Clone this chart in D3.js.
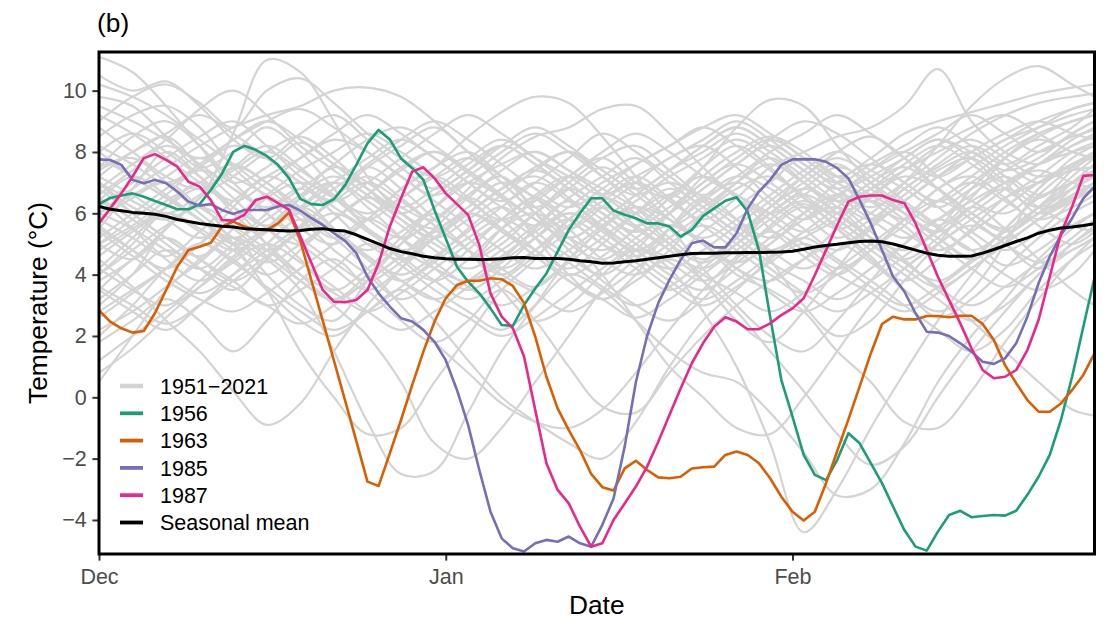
<!DOCTYPE html>
<html><head><meta charset="utf-8">
<script src="https://cdn.jsdelivr.net/npm/d3@7"></script>
<style>
body{margin:0;background:#fff}
svg{display:block}
text{font-family:"Liberation Sans",Arial,Helvetica,sans-serif}
</style>
</head><body>
<svg id="chart" width="1117" height="619"></svg>
<script>
// ---------------- DATA ----------------
const seasonStart = "2000-12-01";           // day offset 0 = 1 Dec
const seasonEnd = 89;                        // 28 Feb
const xTickDates = ["2000-12-01", "2001-01-01", "2001-02-01"];
const xTickLabels = ["Dec", "Jan", "Feb"];
const yTicks = [-4, -2, 0, 2, 4, 6, 8, 10];
const yTickLabels = ["\u22124", "\u22122", "0", "2", "4", "6", "8", "10"];

// daily values, day 0 = 1 Dec ... day 89 = 28 Feb
const y1956 = [6.3,6.5,6.58,6.65,6.54,6.4,6.27,6.13,6.13,6.3,6.76,7.3,8.0,8.2,8.07,7.87,7.58,7.14,6.47,6.3,
6.27,6.46,6.92,7.58,8.28,8.72,8.41,7.79,7.47,7.09,6.1,5.18,4.26,3.77,3.39,2.9,2.36,2.33,3.01,3.55,
4.04,4.75,5.46,6.0,6.49,6.49,6.09,5.95,5.84,5.67,5.67,5.57,5.24,5.46,5.91,6.16,6.41,6.52,6.05,4.8,
2.63,0.57,-0.63,-1.88,-2.53,-2.7,-2.04,-1.17,-1.5,-2.15,-2.8,-3.57,-4.33,-4.87,-5.0,-4.38,-3.84,-3.7,-3.91,-3.87,
-3.84,-3.86,-3.7,-3.18,-2.59,-1.88,-0.74,0.67,2.3,3.9];
const y1963 = [2.83,2.47,2.25,2.11,2.16,2.74,3.5,4.26,4.8,4.91,5.04,5.57,5.73,5.57,5.46,5.46,5.67,6.03,5.1,3.8,
2.5,1.2,-0.1,-1.42,-2.75,-2.89,-1.83,-0.74,0.4,1.49,2.47,3.23,3.66,3.8,3.8,3.88,3.85,3.63,3.07,1.98,
0.67,-0.36,-1.07,-1.72,-2.5,-2.93,-3.04,-2.32,-2.07,-2.37,-2.61,-2.64,-2.59,-2.32,-2.28,-2.26,-1.88,-1.77,-1.88,-2.15,
-2.64,-3.24,-3.73,-4.02,-3.73,-2.8,-1.75,-0.72,0.35,1.43,2.39,2.63,2.54,2.54,2.65,2.65,2.61,2.66,2.66,2.39,
1.87,1.05,0.46,-0.09,-0.47,-0.47,-0.2,0.24,0.73,1.43];
const y1985 = [7.76,7.74,7.58,7.09,6.98,7.09,6.98,6.71,6.38,6.25,6.3,6.11,5.98,6.11,6.11,6.11,6.22,6.27,6.09,5.84,
5.62,5.35,5.1,4.7,3.93,3.39,2.96,2.58,2.47,2.2,1.81,1.21,0.24,-0.9,-2.37,-3.73,-4.6,-4.92,-5.03,-4.76,
-4.65,-4.71,-4.54,-4.76,-4.87,-4.16,-3.3,-1.6,0.5,2.0,3.07,3.83,4.48,5.02,5.11,4.89,4.89,5.35,6.16,6.71,
7.09,7.58,7.76,7.76,7.76,7.68,7.47,7.14,6.43,5.67,4.8,3.93,3.45,2.74,2.14,2.11,2.0,1.76,1.49,1.16,
1.09,1.27,1.76,2.63,3.72,4.59,5.29,5.84,6.49,6.87];
const y1987 = [5.67,6.16,6.65,7.2,7.8,7.93,7.74,7.52,7.03,6.87,6.43,5.78,5.76,5.95,6.43,6.54,6.33,6.11,5.24,4.37,
3.5,3.12,3.1,3.17,3.5,4.37,5.57,6.49,7.36,7.5,7.14,6.65,6.3,5.95,4.97,3.39,2.63,2.25,1.33,-0.41,
-2.15,-3.02,-3.46,-4.22,-4.87,-4.76,-4.0,-3.46,-2.91,-2.26,-1.45,-0.58,0.29,1.11,1.76,2.3,2.61,2.47,2.22,2.22,
2.41,2.68,2.9,3.23,3.99,4.8,5.62,6.38,6.54,6.58,6.58,6.43,6.33,5.67,4.8,3.93,3.17,2.41,1.6,0.89,
0.62,0.67,0.89,1.54,2.52,3.93,5.35,6.22,7.22,7.25];
const seasonalMean = [6.22,6.13,6.08,6.03,6.0,5.97,5.9,5.8,5.73,5.67,5.62,5.58,5.55,5.5,5.48,5.46,5.44,5.42,5.44,5.48,
5.5,5.45,5.42,5.3,5.15,5.0,4.85,4.75,4.68,4.6,4.55,4.52,4.5,4.5,4.49,4.5,4.52,4.55,4.56,4.53,
4.53,4.53,4.5,4.45,4.42,4.37,4.38,4.42,4.45,4.5,4.55,4.6,4.65,4.69,4.7,4.7,4.71,4.71,4.72,4.72,
4.73,4.74,4.76,4.83,4.9,4.95,4.99,5.04,5.08,5.1,5.07,5.0,4.9,4.8,4.7,4.63,4.6,4.6,4.61,4.7,
4.82,4.95,5.08,5.2,5.35,5.45,5.52,5.55,5.6,5.66];

// background years 1951-2021, sampled every 3rd day
const greyDays = [0,3,6,9,12,15,18,21,24,27,30,33,36,39,42,45,48,51,54,57,60,63,66,69,72,75,78,81,84,87,89];
const greyValues = [
[11.1,10.6,9.5,8.2,7.0,7.5,8.3,7.6,6.8,6.0,5.5,6.2,7.0,6.5,5.8,5.0,4.6,5.5,6.4,7.0,6.3,5.5,4.8,5.6,6.8,7.5,8.0,7.2,6.5,7.4,7.9],
[7.0,6.2,5.8,6.5,8.6,11.0,10.6,9.0,7.2,6.0,5.2,4.5,5.0,6.0,6.8,6.2,5.5,4.8,4.2,5.0,6.0,6.8,7.5,7.0,6.2,5.6,6.5,7.8,8.6,9.0,9.2],
[0.5,2.0,3.5,4.5,5.2,4.0,3.0,2.5,3.8,5.0,6.2,7.0,6.5,5.2,4.0,3.2,4.0,5.5,6.5,5.8,4.5,3.0,2.0,2.5,3.8,5.0,6.2,5.5,4.5,3.5,3.0],
[4.5,3.6,2.5,1.5,0.2,-0.9,-0.2,1.5,3.0,4.2,5.5,6.5,7.2,6.0,4.8,3.8,3.0,2.5,3.2,4.5,5.6,6.3,5.5,4.6,3.5,2.8,3.5,5.0,6.8,7.5,7.2],
[7.5,7.8,7.0,6.0,5.2,4.5,3.5,1.5,-0.8,-2.5,-2.4,-0.5,1.5,3.0,4.5,5.5,6.2,5.5,4.2,3.0,2.0,1.5,2.5,3.8,5.0,5.8,5.2,4.3,4.8,5.6,6.0],
[5.5,6.8,8.0,7.2,6.0,5.0,4.0,3.0,2.0,0.5,-1.5,-2.0,-1.0,0.5,2.0,3.5,4.5,5.2,6.0,6.8,7.2,6.5,5.5,4.5,3.8,4.5,5.5,6.5,7.2,8.0,8.3],
[3.0,4.0,5.5,6.2,5.0,3.5,1.5,0.0,-1.2,-1.0,0.5,2.0,3.5,4.5,5.8,6.5,6.0,5.0,3.8,2.5,1.8,2.8,4.2,5.5,6.2,5.5,4.8,4.0,3.5,4.0,4.8],
[6.0,6.8,7.5,8.2,8.8,9.2,9.5,10.0,10.1,9.8,9.0,8.0,7.2,6.5,5.5,4.5,4.0,4.8,6.0,7.0,7.8,7.0,6.0,5.2,4.8,5.5,6.8,7.8,8.5,9.0,9.2],
[5.0,4.5,5.5,6.5,7.5,7.0,6.0,5.2,5.8,6.8,7.5,8.5,9.3,9.8,9.6,8.5,7.2,6.0,5.0,4.2,3.8,4.5,5.5,6.5,7.2,6.8,6.0,5.4,6.0,7.0,7.6],
[8.0,7.2,6.5,5.8,5.0,5.5,6.5,7.5,7.0,6.2,5.8,6.8,7.8,8.5,8.8,9.4,9.5,8.6,7.5,6.5,5.8,5.0,4.2,4.8,5.8,6.8,7.5,8.2,8.8,9.4,9.6],
[4.0,5.0,6.0,5.5,4.8,4.0,4.8,5.8,6.5,6.0,5.2,4.5,5.5,6.5,7.2,7.8,7.0,6.5,7.5,8.8,9.7,9.5,8.2,7.0,6.0,5.2,4.6,5.5,6.6,7.5,8.0],
[6.5,5.8,5.0,4.2,3.5,4.5,5.5,6.5,7.2,6.5,5.6,4.8,4.0,4.8,5.8,6.6,7.2,6.5,5.8,6.5,7.5,8.0,8.5,8.8,9.5,10.7,9.0,8.0,7.6,8.2,8.5],
[7.2,8.0,8.5,7.5,6.5,5.5,5.0,5.8,6.6,7.5,8.0,7.3,6.5,5.8,5.0,4.5,5.2,6.0,7.0,7.6,7.0,6.2,5.5,6.0,7.0,8.2,9.5,10.4,10.8,10.2,9.8],
[5.5,4.8,4.2,5.0,6.2,7.2,6.6,5.5,4.5,3.8,4.5,5.5,6.2,5.4,4.6,4.0,4.8,6.0,7.2,8.0,8.5,8.0,7.2,7.8,8.6,9.0,9.3,9.6,9.9,10.1,10.2],
[5.8,6.5,7.0,6.2,5.5,4.8,5.5,6.5,7.5,6.8,5.8,4.8,3.5,2.5,3.0,4.0,4.8,4.2,2.8,1.0,-1.5,-4.4,-3.0,-1.0,0.8,2.5,4.0,5.2,6.0,6.5,6.8],
[3.5,4.5,5.2,4.5,3.8,3.0,3.5,4.2,5.0,4.3,3.5,2.8,2.2,3.0,4.0,3.5,2.5,1.5,0.8,0.5,-0.5,-1.8,-3.2,-3.0,-1.5,0.5,2.0,3.2,4.5,5.5,6.0],
[2.0,3.0,4.2,5.0,4.5,3.5,2.5,2.0,2.8,3.5,2.5,1.2,0.0,-0.8,-1.5,-2.0,-0.8,1.0,2.5,3.5,4.5,5.2,4.5,3.8,3.0,2.2,1.5,2.2,3.5,4.5,5.0],
[6.0,5.5,4.8,4.2,5.0,6.0,6.8,6.0,5.0,4.5,5.2,6.0,5.5,4.6,3.8,3.2,3.8,4.5,3.8,2.8,1.5,0.2,-1.2,-2.2,-1.6,0.0,1.5,2.8,4.0,5.0,5.5],
[4.2,5.2,6.2,7.0,6.2,5.5,4.5,3.5,4.2,5.2,6.0,5.2,4.2,3.6,4.5,5.5,6.2,5.8,5.0,4.0,3.5,2.8,1.5,0.5,-0.8,-1.0,0.2,1.8,3.2,4.5,5.2],
[6.5,5.5,4.5,3.8,4.5,5.5,6.5,7.0,6.2,5.2,4.2,3.5,4.2,5.2,6.0,5.5,4.8,4.0,3.5,4.2,5.0,5.8,6.2,5.4,4.5,3.5,2.5,1.5,0.5,-0.4,-0.6],
[7.0,6.0,5.2,4.6,5.5,6.5,7.0,6.5,5.5,4.5,3.8,4.5,5.5,6.0,5.2,4.0,2.5,1.0,0.0,-1.0,-1.2,0.0,1.5,3.0,4.2,5.0,5.8,6.5,7.0,7.4,7.5],
[3.5,2.8,2.2,3.0,4.0,5.0,5.8,5.2,4.2,3.0,1.8,0.8,-0.2,-0.8,-1.0,-0.4,0.8,2.2,3.5,4.6,5.5,6.2,5.6,4.8,4.0,3.2,2.5,3.0,4.0,5.0,5.5],
[1.8,2.5,3.2,2.5,1.5,2.5,3.8,4.5,3.5,2.5,1.8,2.5,3.5,2.5,1.0,-0.3,-0.5,0.8,2.0,3.0,3.8,4.5,5.0,4.4,3.5,2.6,3.2,4.2,5.2,6.0,6.4],
[8.5,9.2,9.5,8.8,7.5,6.5,5.5,5.0,5.8,6.8,7.5,8.0,7.2,6.2,5.5,6.2,7.0,7.8,8.2,7.5,6.5,5.8,6.5,7.4,8.0,7.2,6.4,6.0,6.8,7.8,8.2],
[9.8,9.5,8.5,7.5,8.0,8.8,8.0,6.8,5.5,4.8,5.2,6.0,6.8,7.2,6.5,5.5,4.8,5.5,6.5,7.2,6.8,6.0,5.2,5.8,6.6,7.4,7.8,7.0,6.0,6.5,7.0],
[5.2,6.0,6.8,7.5,8.2,7.8,7.0,6.2,5.5,4.8,4.2,3.8,4.5,5.5,6.5,7.2,7.8,7.0,6.2,5.4,4.8,5.4,6.2,7.0,7.5,6.8,6.0,5.5,6.2,7.0,7.4],
[6.8,6.0,5.2,4.5,3.8,4.5,5.5,6.5,7.5,8.2,8.8,8.0,7.0,6.0,5.2,4.8,5.5,6.5,7.5,8.2,7.5,6.5,5.8,5.0,4.5,5.2,6.2,7.0,7.6,8.0,8.2],
[4.8,5.5,6.2,6.8,6.2,5.0,3.8,3.2,4.0,5.0,5.8,6.5,5.8,4.8,4.0,4.6,5.5,6.5,7.2,6.5,5.5,4.6,4.0,4.8,5.8,6.8,7.2,6.5,5.6,5.0,5.4],
[7.5,8.5,9.0,8.2,7.0,6.0,5.0,4.2,3.5,4.2,5.2,6.0,6.8,7.5,8.0,7.2,6.2,5.2,4.5,5.2,6.2,7.2,8.0,8.5,7.8,6.8,5.8,5.2,5.8,6.8,7.4],
[3.8,4.5,5.5,6.5,7.2,8.0,8.5,7.8,6.8,5.8,5.0,4.5,5.2,6.0,6.8,7.5,6.8,5.8,5.0,4.4,5.0,6.0,7.0,7.6,7.0,6.2,5.4,4.8,5.4,6.4,7.0],
[6.2,7.0,7.8,8.5,9.0,8.2,7.2,6.5,6.0,6.5,7.2,6.5,5.5,4.8,4.2,5.0,6.0,6.8,6.2,5.5,6.2,7.0,7.6,6.8,6.0,5.2,4.5,5.2,6.2,7.2,7.8],
[8.8,8.0,7.2,6.8,7.5,8.2,7.5,6.5,5.8,6.5,7.2,7.8,7.0,6.2,7.0,7.8,8.2,7.4,6.5,5.8,5.2,5.8,6.6,7.2,7.8,8.4,7.8,7.0,7.6,8.4,8.8],
[2.8,3.5,4.2,5.0,5.8,6.5,5.8,4.8,4.0,3.2,3.8,4.8,5.8,6.5,5.8,5.0,4.2,3.5,4.2,5.2,6.2,6.8,6.2,5.2,4.4,3.8,4.5,5.5,6.5,7.0,7.2],
[5.8,5.2,4.6,5.4,6.4,7.2,7.8,8.4,8.0,7.2,6.4,5.6,4.8,4.2,4.8,5.6,6.4,7.0,6.4,5.6,4.8,4.2,4.8,5.6,6.4,7.2,7.8,8.4,8.8,9.2,9.4],
[7.8,7.2,6.5,5.8,5.2,5.8,6.6,7.2,6.6,5.8,5.2,5.8,6.6,7.4,8.0,7.4,6.6,5.8,5.2,5.8,6.6,7.4,8.0,7.4,6.8,6.2,6.8,7.4,8.0,8.5,8.7],
[4.2,3.5,3.0,3.8,4.8,5.5,6.2,5.5,4.6,3.8,3.2,3.8,4.6,5.4,6.0,5.4,4.6,3.8,3.2,3.8,4.6,5.2,5.8,6.4,5.8,5.0,4.2,3.6,4.2,5.0,5.6],
[9.2,8.6,7.8,7.0,6.2,5.6,6.2,7.0,7.8,8.4,7.8,7.0,6.2,5.6,6.2,7.0,7.6,8.2,8.8,8.2,7.4,6.6,6.0,6.6,7.4,8.2,8.8,9.2,8.6,8.0,7.8],
[5.0,5.8,6.6,7.4,6.8,6.0,5.2,4.4,3.8,4.4,5.2,6.0,6.8,7.4,6.8,6.0,5.2,4.6,5.4,6.2,7.0,7.8,7.2,6.4,5.6,4.8,5.4,6.2,7.0,7.6,7.8],
[6.6,7.4,8.2,7.6,6.8,6.2,6.8,7.6,8.4,8.8,8.2,7.4,6.6,5.8,5.2,5.8,6.6,7.4,8.0,8.6,8.0,7.2,6.4,5.8,6.4,7.2,8.0,8.6,9.0,8.6,8.4],
[3.2,4.0,4.8,4.2,3.6,3.0,2.4,3.0,3.8,4.6,5.4,4.8,4.0,3.4,2.8,3.4,4.2,5.0,5.6,5.0,4.2,3.4,2.8,3.4,4.2,5.0,5.6,5.0,4.4,4.8,5.2],
[7.0,6.4,5.8,5.2,5.8,6.6,7.4,8.0,8.6,8.0,7.2,6.4,5.8,6.4,7.2,8.0,8.6,8.0,7.2,6.6,6.0,6.6,7.2,6.6,6.0,5.4,6.0,6.8,7.6,8.2,8.6],
[5.6,4.8,4.0,3.4,4.0,4.8,5.6,6.4,7.0,6.4,5.6,4.8,4.2,4.8,5.6,6.4,7.0,6.4,5.6,4.8,4.0,3.4,4.0,4.8,5.6,6.4,7.0,6.4,5.8,6.2,6.6],
[8.2,7.6,7.0,7.6,8.4,9.0,8.4,7.6,6.8,6.2,6.8,7.6,8.2,7.6,6.8,6.0,5.4,6.0,6.8,7.6,8.4,9.0,8.6,7.8,7.0,6.4,7.0,7.8,8.4,8.0,7.8],
[2.2,2.8,3.6,4.4,5.2,4.6,3.8,3.2,3.8,4.6,5.4,6.0,5.4,4.6,3.8,3.2,2.6,3.2,4.0,4.8,5.4,4.8,4.0,3.4,2.8,3.4,4.2,5.0,5.8,6.4,6.8],
[6.0,6.6,7.2,7.8,7.2,6.6,6.0,5.4,4.8,5.4,6.2,7.0,7.6,8.0,7.4,6.8,6.2,5.6,6.2,7.0,7.6,7.0,6.4,6.8,7.4,8.0,8.4,7.8,7.2,7.6,8.0],
[4.6,5.4,6.0,5.4,4.8,5.4,6.2,7.0,6.4,5.6,4.8,4.2,4.8,5.6,6.4,5.8,5.0,4.4,3.8,4.4,5.2,6.0,6.6,6.0,5.4,4.8,5.4,6.2,7.0,7.6,8.0],
[9.5,9.0,8.4,7.8,8.4,9.0,9.4,8.8,8.0,7.2,6.6,7.2,8.0,8.6,8.0,7.2,6.6,7.2,7.8,8.4,7.8,7.0,6.4,7.0,7.8,8.4,8.0,7.4,7.8,8.6,9.0],
[1.2,2.0,2.8,3.6,4.4,5.0,4.4,3.6,2.8,2.2,2.8,3.6,4.4,5.2,5.8,5.2,4.4,3.6,3.0,3.6,4.4,5.0,4.4,3.6,3.0,3.6,4.4,5.2,6.0,6.6,7.0],
[7.4,8.0,8.6,9.2,8.6,7.8,7.0,6.4,7.0,7.8,8.6,9.2,8.6,7.8,7.0,6.2,5.6,6.2,7.0,7.8,8.4,7.8,7.0,6.4,5.8,6.4,7.2,8.0,8.6,9.0,9.2],
[5.4,4.6,3.8,3.2,2.8,3.4,4.2,5.0,5.8,5.2,4.4,3.6,3.0,3.6,4.4,5.2,6.0,6.6,6.0,5.2,4.4,3.8,3.2,3.8,4.6,5.4,6.2,6.8,6.2,5.6,5.4],
[6.4,7.2,6.6,5.8,5.0,4.4,5.0,5.8,6.6,7.4,8.0,7.4,6.6,5.8,5.2,5.8,6.6,7.4,8.2,8.8,8.2,7.4,6.6,5.8,5.2,5.8,6.6,7.2,6.6,7.0,7.4],
[3.6,3.0,2.4,3.0,3.8,4.6,5.4,6.0,5.4,4.6,3.8,3.2,3.8,4.6,5.4,6.2,5.6,4.8,4.0,3.4,2.8,3.4,4.2,5.0,5.8,6.4,5.8,5.0,4.2,4.8,5.2],
[8.0,8.6,8.0,7.2,6.4,7.0,7.8,8.6,9.2,8.6,7.8,7.0,6.4,7.0,7.8,8.6,8.0,7.2,6.6,7.2,8.0,8.6,9.2,8.6,7.8,7.2,7.8,8.4,9.0,9.4,9.6],
[5.0,5.6,6.4,7.0,7.6,7.0,6.2,5.4,4.6,4.0,4.6,5.4,6.2,7.0,6.4,5.6,4.8,4.2,4.8,5.6,6.4,7.2,7.8,7.2,6.4,5.6,4.8,5.4,6.2,6.8,7.2],
[7.2,6.6,6.0,6.6,7.4,8.0,7.4,6.6,5.8,5.2,5.8,6.6,7.4,8.0,7.4,6.6,6.0,6.6,7.2,6.6,6.0,5.4,6.0,6.8,7.6,8.2,7.6,6.8,6.2,6.8,7.2],
[0.8,1.6,2.6,3.6,4.6,5.4,6.0,5.4,4.6,3.8,3.2,2.6,2.0,2.6,3.4,4.2,5.0,5.6,5.0,4.2,3.4,2.8,3.4,4.2,5.0,5.8,6.4,7.0,7.4,7.0,6.8],
[10.2,9.8,9.2,8.4,7.6,6.8,6.2,6.8,7.6,8.4,9.0,8.4,7.6,6.8,6.2,6.8,7.6,8.2,8.8,9.2,8.6,7.8,7.0,6.4,7.0,7.8,8.6,9.2,9.6,9.8,9.9],
[4.0,4.8,5.6,6.2,5.6,4.8,4.0,3.4,2.8,3.4,4.2,5.0,5.8,6.6,7.2,6.6,5.8,5.0,4.4,5.0,5.8,6.4,5.8,5.0,4.2,3.6,4.2,5.0,5.8,6.6,7.0],
[6.8,7.6,8.4,9.4,10.0,9.2,8.2,7.4,6.6,6.0,6.6,7.4,8.2,7.6,6.8,6.0,5.4,6.0,6.8,7.6,8.2,7.6,6.8,6.2,6.8,7.6,8.2,7.6,7.0,7.6,8.0],
[2.6,3.4,4.2,5.0,4.4,3.6,2.8,2.2,2.8,3.6,4.4,5.2,5.8,5.2,4.4,3.6,3.0,3.6,4.4,5.2,6.0,6.6,6.0,5.2,4.4,3.6,3.0,3.6,4.4,5.2,5.8],
[10.5,10.0,10.3,9.5,8.4,7.8,8.6,9.2,8.4,7.5,6.8,7.4,8.2,8.8,8.2,7.4,6.8,7.4,8.2,8.8,8.2,7.4,6.8,7.4,8.0,8.6,9.2,8.6,8.0,8.6,9.0],
[9.0,9.8,10.2,9.6,8.8,10.0,10.4,9.6,8.6,7.8,7.2,7.8,8.4,7.8,7.2,6.6,7.2,7.8,8.4,9.0,8.4,7.6,7.0,7.6,8.2,8.8,8.2,7.6,8.2,8.8,9.4]
];

const seriesNames = ["1956", "1963", "1985", "1987"];
const seriesColors = ["#1B9E77", "#D95F02", "#7570B3", "#E7298A"];
const legendLabels = ["1951\u22122021", "1956", "1963", "1985", "1987", "Seasonal mean"];
const legendColors = ["#D3D3D3", "#1B9E77", "#D95F02", "#7570B3", "#E7298A", "#000000"];

// ---------------- CHART ----------------
const svg = d3.select("#chart");
const W = 1117, H = 619;
const panel = {left: 99, right: 1094.5, top: 52, bottom: 554};

const t0 = new Date(seasonStart + "T00:00:00Z");
const toDate = i => d3.utcDay.offset(t0, i);

const x = d3.scaleUtc().domain([toDate(0), toDate(seasonEnd)]).range([panel.left, panel.right]);
const y = d3.scaleLinear().domain([-5.11, 11.26]).range([panel.bottom, panel.top]);

svg.append("rect").attr("width", W).attr("height", H).attr("fill", "#fff");

svg.append("defs").append("clipPath").attr("id", "clip")
  .append("rect").attr("x", panel.left).attr("y", panel.top)
  .attr("width", panel.right - panel.left).attr("height", panel.bottom - panel.top);

const plot = svg.append("g").attr("clip-path", "url(#clip)");

const greyLine = d3.line()
  .defined((v, i) => i < greyDays.length)
  .x((v, i) => x(toDate(greyDays[i])))
  .y(v => y(v))
  .curve(d3.curveCatmullRom.alpha(0.5));

plot.append("g").selectAll("path").data(greyValues).join("path")
  .attr("d", greyLine)
  .attr("fill", "none")
  .attr("stroke", "#D4D4D4")
  .attr("stroke-width", 2.2)
  .attr("stroke-linejoin", "round");

const dailyLine = d3.line()
  .x((v, i) => x(toDate(i)))
  .y(v => y(v));

const highlighted = [y1956, y1963, y1985, y1987];
highlighted.forEach((vals, k) => {
  plot.append("path").attr("d", dailyLine(vals))
    .attr("fill", "none").attr("stroke", seriesColors[k])
    .attr("stroke-width", 2.6).attr("stroke-linejoin", "round");
});

plot.append("path").attr("d", dailyLine(seasonalMean))
  .attr("fill", "none").attr("stroke", "#000")
  .attr("stroke-width", 3).attr("stroke-linejoin", "round");

// axes
const yAxis = d3.axisLeft(y).tickValues(yTicks)
  .tickFormat((d, i) => yTickLabels[i]).tickSize(6.6).tickPadding(5.6);
const gy = svg.append("g").attr("transform", `translate(${panel.left},0)`).call(yAxis);
const xAxis = d3.axisBottom(x)
  .tickValues(xTickDates.map(s => new Date(s + "T00:00:00Z")))
  .tickFormat((d, i) => xTickLabels[i]).tickSize(6.6).tickPadding(8);
const gx = svg.append("g").attr("transform", `translate(0,${panel.bottom})`).call(xAxis);

[gx, gy].forEach(g => {
  g.select(".domain").remove();
  g.selectAll(".tick line").attr("stroke", "#333333").attr("stroke-width", 2);
  g.selectAll(".tick text").attr("fill", "#4D4D4D")
    .style("font-size", "21.5px").style("font-family", '"Liberation Sans", Arial, sans-serif');
});

// panel border
svg.append("rect")
  .attr("x", panel.left).attr("y", panel.top)
  .attr("width", panel.right - panel.left).attr("height", panel.bottom - panel.top)
  .attr("fill", "none").attr("stroke", "#000").attr("stroke-width", 3);

// titles
svg.append("text").attr("x", (panel.left + panel.right) / 2).attr("y", 614)
  .attr("text-anchor", "middle").style("font-size", "26.3px").attr("fill", "#000").text("Date");
svg.append("text")
  .attr("transform", `translate(47,${(panel.top + panel.bottom) / 2}) rotate(-90)`)
  .attr("text-anchor", "middle").style("font-size", "26.3px").attr("fill", "#000")
  .text("Temperature (\u00B0C)");
svg.append("text").attr("x", 97).attr("y", 31.5)
  .style("font-size", "26.3px").attr("fill", "#000").text("(b)");

// legend
const lg = svg.append("g");
const rowY = [386, 413.3, 440.6, 467.9, 495.2, 522.5];
legendLabels.forEach((lab, i) => {
  lg.append("line").attr("x1", 120).attr("x2", 143)
    .attr("y1", rowY[i]).attr("y2", rowY[i])
    .attr("stroke", legendColors[i]).attr("stroke-width", i === 0 ? 4.5 : 3.8);
  lg.append("text").attr("x", 160).attr("y", rowY[i]).attr("dy", "0.36em")
    .style("font-size", "21.5px").attr("fill", "#000").text(lab);
});
</script>
</body></html>
